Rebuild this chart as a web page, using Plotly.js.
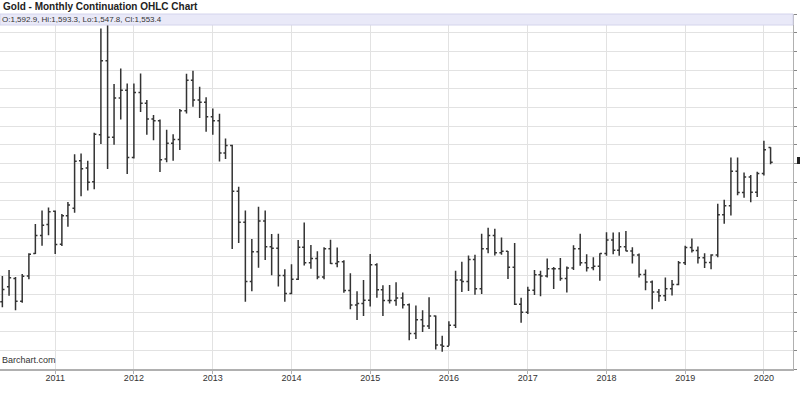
<!DOCTYPE html>
<html>
<head>
<meta charset="utf-8">
<script src="https://cdn.plot.ly/plotly-3.0.1.min.js"></script>
<style>
  html, body { margin: 0; padding: 0; background: #ffffff; }
  #chart { width: 800px; height: 400px; }
</style>
</head>
<body>
<div id="chart"></div>
<script>
// Monthly gold continuation bars, May 2010 .. Feb 2020
const startYear = 2010;
const startMonth = 5;

const openVals = [
  1180,1220,1242,1181,1249,1309,1357,1387,
  1422,1334,1410,1430,1557,1538,1501,1627,1825,1620,1725,1746,
  1566,1740,1711,1669,1664,1562,1604,1614,1691,1773,1720,1714,
  1675,1664,1578,1598,1476,1393,1234,1314,1396,1327,1323,1250,
  1202,1240,1326,1284,1296,1246,1322,1282,1287,1210,1171,1175,
  1184,1279,1212,1183,1183,1190,1172,1095,1132,1115,1142,1064,
  1061,1117,1238,1234,1293,1215,1322,1357,1311,1315,1272,1173,
  1152,1211,1252,1249,1268,1268,1242,1270,1322,1284,1271,1275,
  1309,1345,1318,1327,1316,1305,1253,1233,1206,1196,1215,1226,
  1284,1325,1317,1298,1285,1305,1413,1437,1529,1472,1514,1473,
  1523,1592.9
];
const highVals = [
  1249,1265,1246,1254,1310,1388,1424,1432,
  1424,1415,1447,1575,1577,1557,1632,1911,1923.7,1763,1804,1764,
  1764,1791,1720,1680,1668,1640,1628,1696,1790,1798,1755,1727,
  1697,1683,1617,1600,1488,1424,1348,1434,1424,1361,1362,1267,
  1280,1345,1392,1332,1315,1326,1346,1325,1291,1256,1208,1238,
  1308,1283,1224,1225,1232,1205,1175,1170,1157,1192,1143,1089,
  1128,1263,1287,1304,1306,1362,1378,1375,1352,1316,1337,1191,
  1220,1265,1263,1296,1273,1297,1274,1331,1362,1307,1299,1310,
  1366,1365,1366,1369,1326,1309,1266,1237,1214,1245,1238,1289,
  1330,1349,1328,1310,1307,1442,1453,1566,1566,1526,1519,1528,
  1611,1593.3
];
const lowVals = [
  1165,1196,1157,1177,1240,1308,1330,1358,
  1308,1329,1381,1418,1462,1478,1481,1602,1535,1600,1668,1522,
  1563,1688,1627,1612,1527,1553,1557,1586,1684,1702,1672,1635,
  1627,1555,1562,1321,1337,1180,1208,1271,1292,1251,1221,1180,
  1200,1238,1277,1268,1240,1240,1281,1272,1204,1160,1131,1142,
  1167,1191,1142,1175,1169,1162,1077,1080,1099,1107,1052,1046,
  1062,1110,1206,1209,1199,1201,1310,1304,1306,1241,1171,1124,
  1147,1198,1195,1245,1214,1236,1205,1265,1276,1261,1264,1236,
  1303,1307,1303,1315,1282,1245,1211,1160,1180,1182,1197,1224,
  1278,1312,1282,1270,1267,1299,1389,1411,1465,1458,1446,1460,
  1518,1547.8
];
const closeVals = [
  1213,1244,1181,1248,1307,1357,1385,1421,
  1333,1410,1439,1556,1536,1500,1628,1825,1620,1725,1746,1566,
  1740,1711,1669,1664,1560,1604,1614,1691,1773,1720,1714,1675,
  1664,1578,1598,1476,1393,1234,1314,1396,1327,1323,1250,1202,
  1240,1326,1284,1296,1246,1322,1282,1287,1210,1171,1175,1184,
  1279,1212,1183,1183,1190,1172,1095,1132,1115,1142,1064,1061,
  1117,1238,1234,1293,1215,1322,1357,1311,1315,1272,1173,1152,
  1211,1252,1249,1268,1268,1242,1270,1322,1284,1271,1275,1309,
  1345,1318,1327,1316,1305,1253,1233,1206,1196,1215,1226,1284,
  1325,1317,1298,1285,1305,1413,1437,1529,1472,1514,1473,1523,
  1587,1553.4
];

const yearTickVals = ['2011-01-01','2012-01-01','2013-01-01','2014-01-01','2015-01-01',
                      '2016-01-01','2017-01-01','2018-01-01','2019-01-01','2020-01-01'];
const yearTickText = ['2011','2012','2013','2014','2015','2016','2017','2018','2019','2020'];

const titleText = 'Gold - Monthly Continuation OHLC Chart';
const infoText = 'O:1,592.9, Hi:1,593.3, Lo:1,547.8, Cl:1,553.4';
const sourceText = 'Barchart.com';

// month dates
const monthDates = openVals.map((_, i) => {
  const m0 = (startMonth - 1) + i;
  const y = startYear + Math.floor(m0 / 12);
  const m = (m0 % 12) + 1;
  return y + '-' + String(m).padStart(2, '0') + '-01';
});

const barColor = '#333333';
const FONT = 'Liberation Sans, Arial, sans-serif';

const trace = {
  type: 'ohlc',
  x: monthDates,
  open: openVals,
  high: highVals,
  low: lowVals,
  close: closeVals,
  tickwidth: 0.35,
  increasing: { line: { color: barColor, width: 1.5 } },
  decreasing: { line: { color: barColor, width: 1.5 } },
  hoverinfo: 'skip',
  showlegend: false
};

const layout = {
  width: 800,
  height: 400,
  margin: { l: 0, r: 7, t: 14, b: 31, pad: 0 },
  paper_bgcolor: '#ffffff',
  plot_bgcolor: '#ffffff',
  font: { family: FONT, color: '#333' },
  showlegend: false,
  xaxis: {
    type: 'date',
    range: ['2010-04-20', '2020-05-15'],
    rangeslider: { visible: false },
    tickmode: 'array',
    tickvals: yearTickVals,
    ticktext: yearTickText,
    showgrid: true,
    gridcolor: '#e2e2e2',
    gridwidth: 1,
    showline: true,
    linecolor: '#b0b0b0',
    linewidth: 2,
    ticks: 'outside',
    ticklen: 3,
    tickcolor: '#b0b0b0',
    ticklabelstandoff: -4,
    tickfont: { size: 9, color: '#333', family: FONT },
    zeroline: false,
    fixedrange: true
  },
  yaxis: {
    side: 'right',
    range: [1000, 1950],
    dtick: 50,
    tick0: 1000,
    showgrid: true,
    gridcolor: '#e2e2e2',
    gridwidth: 1,
    showline: true,
    linecolor: '#b0b0b0',
    linewidth: 1,
    ticks: 'outside',
    ticklen: 3,
    tickcolor: '#888',
    showticklabels: false,
    zeroline: false,
    fixedrange: true
  },
  shapes: [
    {
      type: 'rect', xref: 'paper', yref: 'paper', layer: 'above',
      x0: 0, x1: 1, y0: 1 - 11 / 355, y1: 1,
      fillcolor: '#e9e9f8', line: { color: '#d4d4ec', width: 1 }
    },
    {
      type: 'rect', xref: 'paper', yref: 'paper', layer: 'above',
      x0: 1 + 4 / 793, x1: 1 + 8 / 793, y0: 1 - 150 / 355, y1: 1 - 143 / 355,
      fillcolor: '#222', line: { width: 0 }
    }
  ],
  annotations: [
    {
      text: '<b>' + titleText + '</b>', xref: 'paper', yref: 'paper',
      x: 0, y: 1, xanchor: 'left', yanchor: 'middle', xshift: 1, yshift: 8,
      showarrow: false, font: { size: 10, color: '#222', family: FONT }
    },
    {
      text: infoText, xref: 'paper', yref: 'paper',
      x: 0, y: 1, xanchor: 'left', yanchor: 'middle', xshift: 0, yshift: -5.5,
      showarrow: false, font: { size: 8, color: '#333', family: FONT }
    },
    {
      text: sourceText, xref: 'paper', yref: 'paper',
      x: 0, y: 0, xanchor: 'left', yanchor: 'middle', xshift: 0, yshift: 9,
      showarrow: false, font: { size: 9, color: '#333', family: FONT }
    }
  ]
};

Plotly.newPlot('chart', [trace], layout, { displayModeBar: false, staticPlot: true });
</script>
</body>
</html>
